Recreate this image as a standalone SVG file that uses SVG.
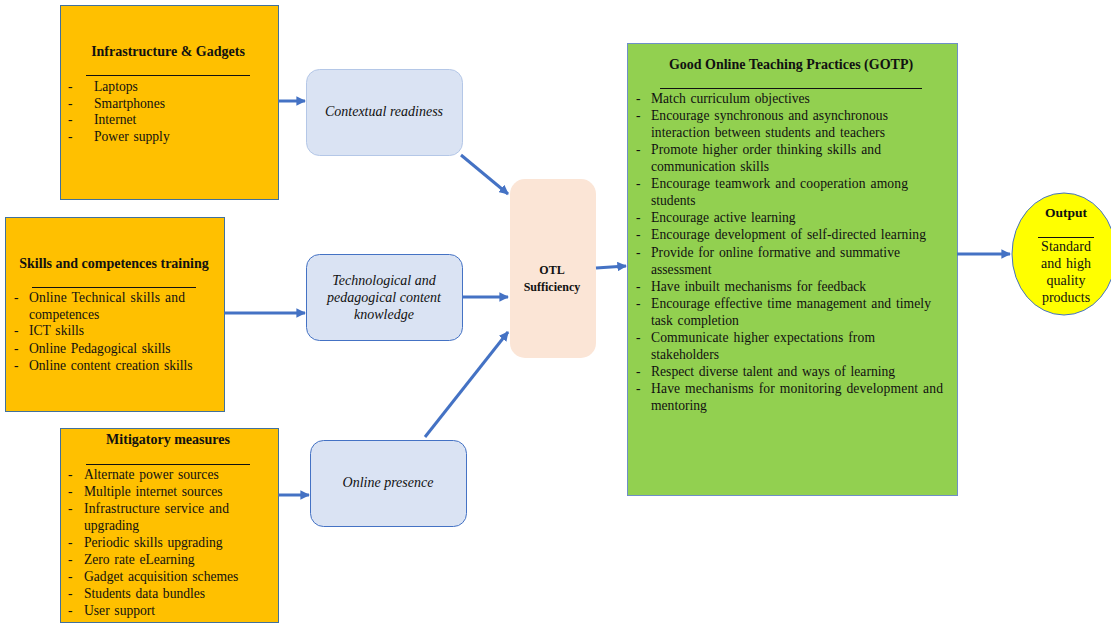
<svg xmlns="http://www.w3.org/2000/svg" width="1111" height="623" viewBox="0 0 1111 623">
<style>
.t{font-family:"Liberation Serif","Times New Roman",serif;font-size:13.6px;word-spacing:1.3px;fill:#111}
.b{font-weight:bold;font-size:14px;word-spacing:0}
.i{font-style:italic;font-size:14px;word-spacing:0}
.c{text-anchor:middle}
.orange{fill:#FFC000;stroke:#41719C;stroke-width:1}
.blue{fill:#DAE3F3;stroke:#4472C4;stroke-width:1}
.rule{stroke:#111;stroke-width:1}
.conn{stroke:#4472C4;stroke-width:3;fill:none;marker-end:url(#ah)}
</style>
<defs>
<marker id="ah" viewBox="0 0 10 10" refX="9" refY="5" markerWidth="3.2" markerHeight="3.2" orient="auto" markerUnits="strokeWidth">
<path d="M0,0 L10,5 L0,10 z" fill="#4472C4"/>
</marker>
</defs>
<rect width="1111" height="623" fill="#fff"/>

<g id="infra">
<rect class="orange" x="60.5" y="5.5" width="218" height="194"/>
<text class="t b c" x="168" y="56">Infrastructure &amp; Gadgets</text>
<line class="rule" x1="86" y1="75.5" x2="250" y2="75.5"/>
<text class="t" x="68" y="91">-</text><text class="t" x="94" y="91">Laptops</text>
<text class="t" x="68" y="108">-</text><text class="t" x="94" y="108">Smartphones</text>
<text class="t" x="68" y="124">-</text><text class="t" x="94" y="124">Internet</text>
<text class="t" x="68" y="141">-</text><text class="t" x="94" y="141">Power supply</text>
</g>

<g id="skills">
<rect class="orange" x="5.5" y="217.5" width="219" height="194"/>
<text class="t b c" x="114" y="268">Skills and competences training</text>
<line class="rule" x1="32" y1="287.5" x2="196" y2="287.5"/>
<text class="t" x="14" y="302">-</text><text class="t" x="29" y="302" textLength="156" lengthAdjust="spacing">Online Technical skills and</text>
<text class="t" x="29" y="319">competences</text>
<text class="t" x="14" y="335">-</text><text class="t" x="29" y="335">ICT skills</text>
<text class="t" x="14" y="353">-</text><text class="t" x="29" y="353">Online Pedagogical skills</text>
<text class="t" x="14" y="370">-</text><text class="t" x="29" y="370">Online content creation skills</text>
</g>

<g id="mitigatory">
<rect class="orange" x="60.5" y="428.5" width="218" height="194"/>
<text class="t b c" x="168" y="444">Mitigatory measures</text>
<line class="rule" x1="86" y1="464.5" x2="250" y2="464.5"/>
<text class="t" x="68" y="479">-</text><text class="t" x="84" y="479">Alternate power sources</text>
<text class="t" x="68" y="496">-</text><text class="t" x="84" y="496">Multiple internet sources</text>
<text class="t" x="68" y="513">-</text><text class="t" x="84" y="513" textLength="145" lengthAdjust="spacing">Infrastructure service and</text>
<text class="t" x="84" y="530">upgrading</text>
<text class="t" x="68" y="547">-</text><text class="t" x="84" y="547">Periodic skills upgrading</text>
<text class="t" x="68" y="564">-</text><text class="t" x="84" y="564">Zero rate eLearning</text>
<text class="t" x="68" y="581">-</text><text class="t" x="84" y="581">Gadget acquisition schemes</text>
<text class="t" x="68" y="598">-</text><text class="t" x="84" y="598">Students data bundles</text>
<text class="t" x="68" y="615">-</text><text class="t" x="84" y="615">User support</text>
</g>

<g id="contextual">
<rect x="306.5" y="69.5" width="156" height="86" rx="13" fill="#DAE3F3" stroke="#B4C7E7" stroke-width="1"/>
<text class="t i c" x="384" y="116">Contextual readiness</text>
</g>

<g id="tpck">
<rect class="blue" x="306.5" y="254.5" width="156" height="86" rx="13"/>
<text class="t i c" x="384" y="285">Technological and</text>
<text class="t i c" x="384" y="302">pedagogical content</text>
<text class="t i c" x="384" y="319">knowledge</text>
</g>

<g id="presence">
<rect class="blue" x="310.5" y="440.5" width="156" height="86" rx="13"/>
<text class="t i c" x="388" y="487">Online presence</text>
</g>

<g id="otl">
<rect x="510" y="179" width="86" height="179" rx="15" fill="#FBE5D6"/>
<text class="t c" x="552" y="274" style="font-weight:bold;font-size:12px">OTL</text>
<text class="t c" x="552" y="291" style="font-weight:bold;font-size:12px">Sufficiency</text>
</g>

<g id="gotp">
<rect x="627.5" y="43.5" width="330" height="452" fill="#92D050" stroke="#6F8FC8" stroke-width="1"/>
<text class="t b c" x="791" y="69">Good Online Teaching Practices (GOTP)</text>
<line class="rule" x1="660" y1="88.5" x2="922" y2="88.5"/>
<text class="t" x="636" y="103">-</text><text class="t" x="651" y="103">Match curriculum objectives</text>
<text class="t" x="636" y="120">-</text><text class="t" x="651" y="120" textLength="237" lengthAdjust="spacing">Encourage synchronous and asynchronous</text>
<text class="t" x="651" y="137" textLength="234" lengthAdjust="spacing">interaction between students and teachers</text>
<text class="t" x="636" y="154">-</text><text class="t" x="651" y="154" textLength="230" lengthAdjust="spacing">Promote higher order thinking skills and</text>
<text class="t" x="651" y="171">communication skills</text>
<text class="t" x="636" y="188">-</text><text class="t" x="651" y="188" textLength="257" lengthAdjust="spacing">Encourage teamwork and cooperation among</text>
<text class="t" x="651" y="205">students</text>
<text class="t" x="636" y="222">-</text><text class="t" x="651" y="222">Encourage active learning</text>
<text class="t" x="636" y="239">-</text><text class="t" x="651" y="239" textLength="275" lengthAdjust="spacing">Encourage development of self-directed learning</text>
<text class="t" x="636" y="257">-</text><text class="t" x="651" y="257" textLength="249" lengthAdjust="spacing">Provide for online formative and summative</text>
<text class="t" x="651" y="274">assessment</text>
<text class="t" x="636" y="291">-</text><text class="t" x="651" y="291">Have inbuilt mechanisms for feedback</text>
<text class="t" x="636" y="308">-</text><text class="t" x="651" y="308" textLength="280" lengthAdjust="spacing">Encourage effective time management and timely</text>
<text class="t" x="651" y="325">task completion</text>
<text class="t" x="636" y="342">-</text><text class="t" x="651" y="342" textLength="224" lengthAdjust="spacing">Communicate higher expectations from</text>
<text class="t" x="651" y="359">stakeholders</text>
<text class="t" x="636" y="376">-</text><text class="t" x="651" y="376">Respect diverse talent and ways of learning</text>
<text class="t" x="636" y="393">-</text><text class="t" x="651" y="393" textLength="292" lengthAdjust="spacing">Have mechanisms for monitoring development and</text>
<text class="t" x="651" y="410">mentoring</text>
</g>

<g id="output">
<ellipse cx="1064" cy="254" rx="52" ry="61" fill="#FFFF00" stroke="#4472C4" stroke-width="1"/>
<text class="t b c" x="1066" y="217" style="font-size:13.5px">Output</text>
<line class="rule" x1="1038" y1="237.5" x2="1094" y2="237.5"/>
<text class="t c" x="1066" y="251" style="font-size:14px">Standard</text>
<text class="t c" x="1066" y="268" style="font-size:14px">and high</text>
<text class="t c" x="1066" y="285" style="font-size:14px">quality</text>
<text class="t c" x="1066" y="302" style="font-size:14px">products</text>
</g>

<g id="connectors">
<line class="conn" x1="278" y1="101" x2="305" y2="101"/>
<line class="conn" x1="224" y1="313" x2="305" y2="313"/>
<line class="conn" x1="278" y1="495" x2="309" y2="495"/>
<line class="conn" x1="461" y1="155" x2="508" y2="194"/>
<line class="conn" x1="462" y1="297" x2="508" y2="297"/>
<line class="conn" x1="425" y1="437" x2="508" y2="332"/>
<line class="conn" x1="596" y1="268" x2="626" y2="266"/>
<line class="conn" x1="957" y1="254" x2="1010" y2="254"/>
</g>
</svg>
